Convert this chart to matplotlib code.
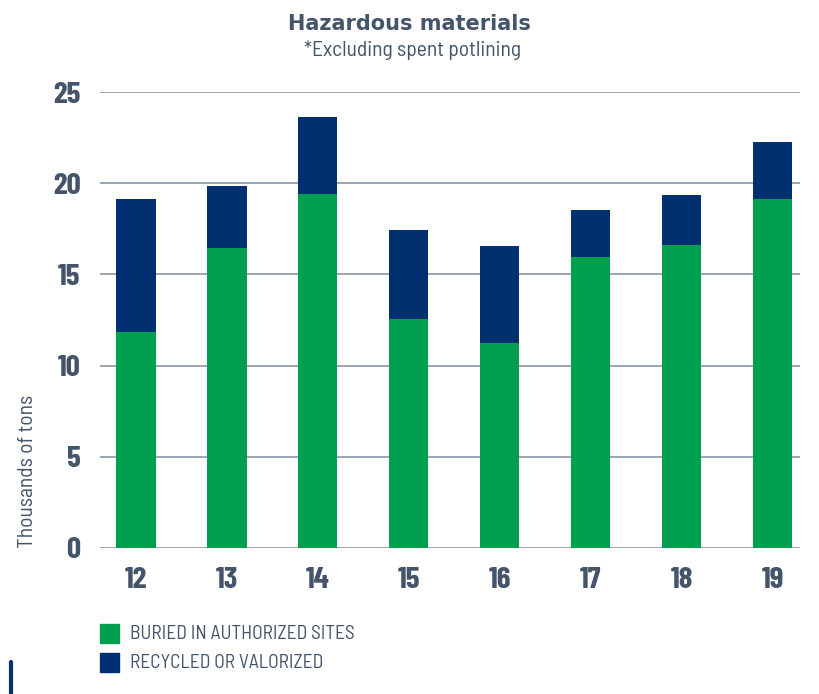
import matplotlib
matplotlib.use("Agg")
import matplotlib.pyplot as plt
from matplotlib.patches import Rectangle
from matplotlib.lines import Line2D
import numpy as np

# data
years = ["12", "13", "14", "15", "16", "17", "18", "19"]
buried = [11.85, 16.45, 19.4, 12.55, 11.25, 15.95, 16.6, 19.15]
recycled = [7.3, 3.4, 4.25, 4.9, 5.3, 2.6, 2.75, 3.1]
yticks = [0, 5, 10, 15, 20, 25]

green = "#00A050"
navy = "#003070"
txt = "#44546A"
narrow = ["Barlow Condensed", "Roboto Condensed", "DejaVu Sans"]
semi = ["Barlow Semi Condensed", "Barlow Condensed", "DejaVu Sans"]

fig = plt.figure(figsize=(8.19, 6.94), dpi=100)
ax = fig.add_axes([0.1221, 0.2104, 0.8547, 0.6570])

x = np.arange(len(years))
ax.bar(x, buried, width=0.43, color=green, zorder=3)
ax.bar(x, recycled, width=0.43, bottom=buried, color=navy, zorder=3)

ax.set_ylim(0, 25)
ax.set_xlim(-0.396, 7.3)
ax.set_yticks(yticks)
ax.set_xticks(x)
ax.set_xticklabels(years)
ax.grid(axis="y", color="#8A96A6", linewidth=1.2, zorder=0)
for s in ax.spines.values():
    s.set_visible(False)
ax.tick_params(axis="y", length=0, pad=14)
ax.tick_params(axis="x", length=0, pad=14)
for lab in ax.get_xticklabels() + ax.get_yticklabels():
    lab.set_family(narrow)
    lab.set_fontweight("bold")
    lab.set_fontsize(22.5)
    lab.set_color(txt)

fig.text(0.034, 0.21, "Thousands of tons", rotation=90, ha="center", va="bottom",
         family=semi, fontsize=15.5, color=txt)

fig.text(0.5, 0.966, "Hazardous materials", ha="center", va="center",
         fontsize=15, fontweight="bold", color=txt, family="DejaVu Sans")
fig.text(0.504, 0.928, "*Excluding spent potlining", ha="center", va="center",
         fontsize=15.5, color=txt, family=semi)

# legend
labels = ["BURIED IN AUTHORIZED SITES", "RECYCLED OR VALORIZED"]
colors = [green, navy]
for i, (lab, c) in enumerate(zip(labels, colors)):
    yc = 1 - (634 + i * 29) / 694
    fig.patches.append(Rectangle((100 / 819, yc - 9 / 694), 19 / 819, 19 / 694,
                                 transform=fig.transFigure, color=c))
    fig.text(130 / 819, yc, lab, ha="left", va="center", family=semi,
             fontsize=14, color=txt)

fig.lines.append(Line2D([11 / 819, 11 / 819], [1 - 662 / 694, 0], transform=fig.transFigure,
                        color=navy, linewidth=3, solid_capstyle="round"))

fig.savefig("out.png", dpi=100)
